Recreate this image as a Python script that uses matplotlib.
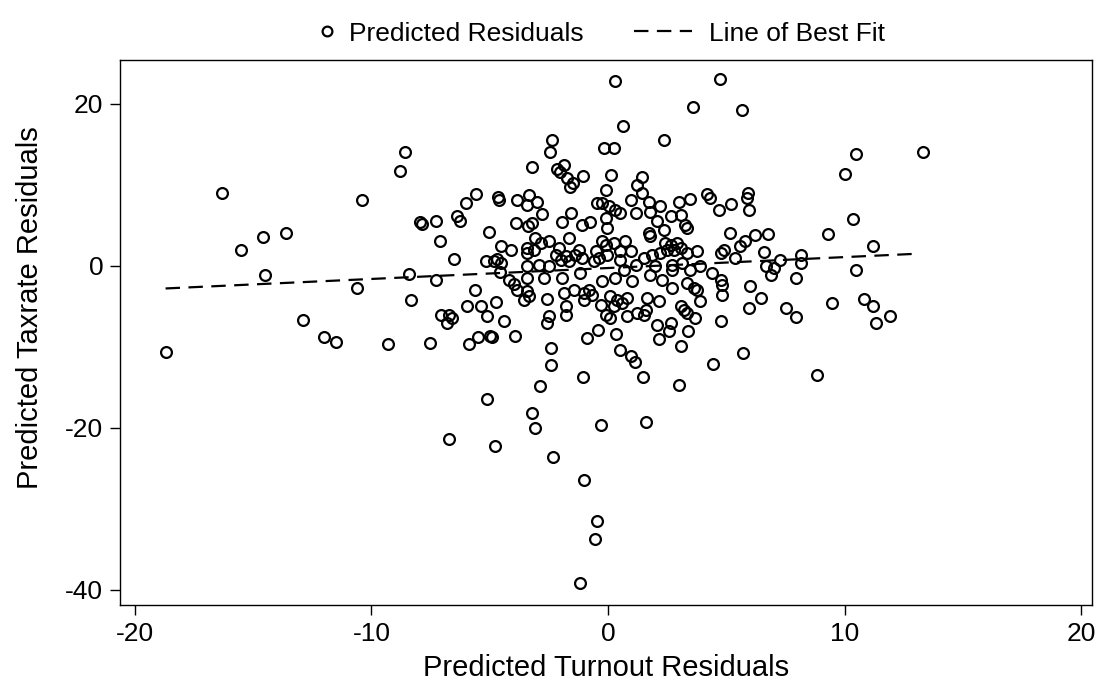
import matplotlib
matplotlib.use("Agg")
import matplotlib.pyplot as plt
from matplotlib.legend_handler import HandlerLine2D
import numpy as np

plt.rcParams['font.family'] = ['Liberation Sans', 'DejaVu Sans']
plt.rcParams['axes.unicode_minus'] = False

# Predicted residuals (turnout residual, taxrate residual)
pts = [
    (-18.7, -10.6), (-16.3, 9.0), (-15.5, 2.0), (-14.6, 3.6), (-14.5, -1.2), (-13.6, 4.1),
    (-12.9, -6.7), (-12.0, -8.8), (-11.5, -9.4), (-10.6, -2.8), (-10.4, 8.1), (-9.3, -9.7),
    (-8.8, 11.7), (-8.6, 14.0), (-8.4, -1.0), (-8.35, -4.2),
    (-5.59, 8.9), (-6.0, 7.8), (-4.67, 8.5), (-4.6, 8.1), (-3.86, 8.15),
    (0.3, 22.8), (0.61, 17.3), (-2.36, 15.5), (-2.46, 14.0), (-0.16, 14.5), (0.26, 14.5),
    (-3.2, 12.2), (-2.18, 12.0), (-1.87, 12.5), (-2.05, 11.6), (-1.74, 10.9), (-1.49, 10.2),
    (-1.59, 9.7), (-1.04, 11.1), (0.14, 11.2), (-0.1, 9.3), (-3.36, 8.7), (-3.0, 7.86),
    (-0.45, 7.74), (-0.27, 7.8), (0.95, 8.15), (1.2, 10.0), (1.45, 11.0),
    (4.73, 23.1), (3.59, 19.6), (5.66, 19.2), (2.38, 15.5), (1.44, 9.0), (1.72, 7.86),
    (2.2, 7.4), (2.99, 7.86), (3.44, 8.27), (4.18, 8.85), (4.3, 8.36), (5.2, 7.6),
    (5.9, 8.97), (5.85, 8.43),
    (-7.95, 5.4), (-7.88, 5.2), (-7.29, 5.47), (-6.4, 6.17), (-6.26, 5.47), (-7.09, 3.0),
    (-5.04, 4.16), (-3.91, 5.27), (-4.51, 2.5), (-4.12, 1.98), (-6.5, 0.82), (-5.18, 0.53),
    (-4.83, 0.53), (-4.68, 0.82), (-4.54, 0.33), (-4.57, -0.82), (-4.19, -1.73), (-3.98, -2.2),
    (-3.84, -2.96), (-7.26, -1.8), (-5.64, -3.05), (-5.95, -4.94), (-5.39, -5.0), (-4.75, -4.5),
    (-5.1, -6.17), (-7.08, -6.05), (-6.73, -6.05), (-6.58, -6.46), (-6.8, -7.1), (-4.4, -6.87),
    (-3.42, 7.53), (-2.78, 6.42), (-3.2, 5.27), (-3.39, 4.94), (-1.94, 5.35), (-1.56, 6.5),
    (-1.09, 5.06), (-0.77, 5.35), (0.03, 7.32), (0.31, 6.9), (0.52, 6.5), (1.16, 6.5),
    (-0.11, 5.9), (-0.04, 4.65), (-1.66, 3.42), (-3.07, 3.42), (-2.5, 3.0), (-2.85, 2.8),
    (-3.42, 2.19), (-3.42, 1.57), (-3.14, 1.98), (-2.08, 2.19), (-2.22, 1.36), (-1.8, 1.15),
    (-1.38, 1.36), (-1.24, 1.98), (-1.09, 0.95), (-1.66, 0.53), (-2.01, 0.74), (-0.11, 2.6),
    (-0.25, 3.0), (0.24, 2.8), (0.73, 3.0), (0.95, 1.77), (0.52, 1.77), (-0.53, 1.77),
    (-0.39, 0.95), (-0.04, 1.36), (0.52, 0.74), (1.16, 0.12), (-3.42, -0.08), (-2.93, 0.12),
    (-2.5, -0.08), (-3.42, -1.52), (-2.72, -1.52), (-1.94, -1.52), (-1.17, -0.9), (-0.6, 0.53),
    (-0.25, -1.94), (0.31, -1.52), (1.02, -1.94), (0.66, -0.49), (-3.42, -3.17), (-3.35, -3.79),
    (-3.56, -4.2), (-2.57, -4.1), (-1.87, -3.37), (-1.45, -2.96), (-1.03, -3.37), (-0.82, -2.96),
    (-0.67, -3.58), (-1.03, -4.2), (0.1, -3.79), (0.38, -4.2), (0.6, -4.6), (0.24, -5.02),
    (0.81, -3.99), (1.23, -5.84), (-1.8, -5.02), (-1.8, -6.05), (-2.5, -6.26), (-0.32, -4.81),
    (-0.11, -6.05), (0.1, -6.46), (0.81, -6.26), (-2.57, -7.07),
    (1.79, 6.7), (2.64, 6.09), (3.06, 6.3), (3.27, 5.06), (3.34, 4.65), (2.35, 4.44),
    (2.07, 5.47), (1.72, 4.04), (1.79, 3.62), (4.68, 6.9), (5.94, 6.9), (5.17, 4.04),
    (6.22, 3.83), (5.8, 3.0), (5.59, 2.38), (4.89, 1.98), (4.75, 1.57), (5.38, 0.95),
    (2.42, 2.8), (2.64, 2.6), (2.92, 2.8), (3.06, 2.19), (2.78, 1.98), (2.5, 1.98),
    (2.2, 1.57), (3.34, 1.57), (3.76, 1.77), (1.86, 1.36), (1.51, 0.95), (2.0, -0.08),
    (2.71, 0.12), (3.13, 0.33), (3.9, -0.08), (3.48, -0.49), (2.71, -0.49), (2.28, -1.73),
    (1.79, -1.11), (4.4, -0.9), (4.75, -1.73), (4.82, -2.35), (4.82, -3.58), (3.62, -2.75),
    (3.76, -2.96), (2.71, -2.75), (3.34, -2.14), (1.65, -3.99), (2.14, -4.4), (3.9, -4.4),
    (3.06, -5.02), (3.2, -5.43), (3.34, -5.84), (3.69, -6.46), (1.58, -5.43), (1.51, -6.05),
    (2.07, -7.28), (2.64, -7.07), (4.75, -6.87), (6.01, -2.55), (5.94, -5.22),
    (10.49, 13.8), (13.32, 14.0), (10.0, 11.36), (10.36, 5.8), (6.75, 3.95), (9.3, 3.95),
    (6.58, 1.7), (11.18, 2.47), (7.25, 0.66), (8.17, 1.27), (8.15, 0.33), (6.66, -0.08),
    (7.0, -0.33), (6.9, -1.1), (7.94, -1.56), (10.48, -0.5), (6.44, -4.0), (7.52, -5.2),
    (7.94, -6.3), (9.46, -4.6), (10.8, -4.16), (11.2, -4.94), (11.93, -6.2), (11.32, -7.1),
    (8.83, -13.5),
    (-7.53, -9.6), (-5.87, -9.7), (-5.49, -8.85), (-5.0, -8.7), (-4.9, -8.85), (-3.95, -8.64),
    (-2.42, -10.1), (-2.42, -12.3), (-0.91, -8.9), (-0.43, -7.9), (0.34, -8.4), (0.51, -10.4),
    (0.95, -11.2), (1.14, -11.85), (-1.07, -13.7), (1.47, -13.7), (2.17, -9.05), (2.58, -8.1),
    (3.37, -8.07), (3.1, -9.88), (4.44, -12.1), (5.68, -10.8), (3.0, -14.7), (-2.88, -14.9),
    (-5.12, -16.5), (-3.22, -18.2), (-3.1, -20.1), (-0.31, -19.7), (1.61, -19.3), (-6.71, -21.4),
    (-4.78, -22.3), (-2.33, -23.6), (-1.01, -26.5), (-0.48, -31.5), (-0.57, -33.8), (-1.17, -39.2),
]
turnout_resid = [p[0] for p in pts]
taxrate_resid = [p[1] for p in pts]

# Line of best fit
fit_intercept = -0.28
fit_slope = 0.135

x_ticks = [-20, -10, 0, 10, 20]
y_ticks = [-40, -20, 0, 20]


class RightMarkerHandler(HandlerLine2D):
    """Draw the single legend marker near the right end of its handle box."""
    def get_xdata(self, legend, xdescent, ydescent, width, height, fontsize):
        xm = width - xdescent - 0.2 * fontsize
        return np.array([xm - 0.5, xm + 0.5]), np.array([xm])


fig = plt.figure(figsize=(11, 6.91), dpi=100)
ax = fig.add_axes([0.109, 0.1245, 0.884, 0.7885])

scat, = ax.plot(turnout_resid, taxrate_resid, linestyle='none', marker='o', markersize=7.8,
                markerfacecolor='none', markeredgecolor='black', markeredgewidth=1.6,
                label='Predicted Residuals')
xl = np.array([min(turnout_resid), 13.05])
fitline, = ax.plot(xl, fit_intercept + fit_slope * xl, color='black', lw=1.6,
                   linestyle=(0, (6.5, 3.8)), label='Line of Best Fit')

ax.set_xlim(-20.63, 20.46)
ax.set_ylim(-41.9, 25.4)
ax.set_xticks(x_ticks)
ax.set_yticks(y_ticks)
ax.tick_params(direction='out', length=7, width=1, labelsize=19, pad=5)
for s in ax.spines.values():
    s.set_linewidth(1.0)
ax.set_xlabel('Predicted Turnout Residuals', fontsize=21, labelpad=6)
ax.set_ylabel('Predicted Taxrate Residuals', fontsize=21)
ax.yaxis.set_label_coords(-0.078, 0.545)

leg = ax.legend(handles=[scat, fitline], loc='lower center', bbox_to_anchor=(0.473, 1.0),
                ncol=2, frameon=False, fontsize=19, markerscale=0.9, handlelength=2.2,
                columnspacing=1.9, handletextpad=0.65, borderaxespad=0.15,
                handler_map={scat: RightMarkerHandler(numpoints=1)})

fig.savefig('out.png', dpi=100)
